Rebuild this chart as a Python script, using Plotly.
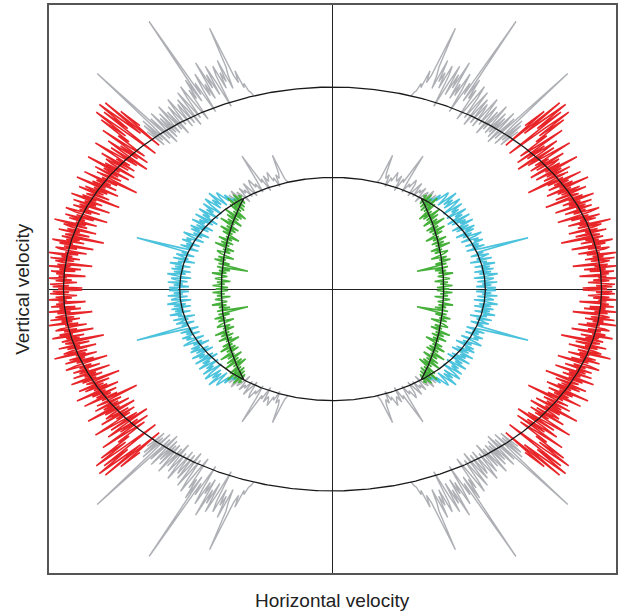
import numpy as np
import plotly.graph_objects as go

# ---- curve parameters (axis units, range -1..1) ----
outer_a, outer_b = 0.949, 0.711      # outer black ellipse
inner_a, inner_b = 0.539, 0.393      # inner black ellipse (cyan branch)
green_a, green_b = 0.392, 0.53       # green branch ellipse

# angular extents (degrees from the horizontal axis) of each coloured branch, one quadrant
red_span = (0.0, 48.5)
gray_out_span = (48.5, 73.0)
cyan_span = (0.0, 52.0)
gray_in_span = (50.0, 73.0)
green_span = (0.0, 37.0)

# ---- relative radial deviations, one quadrant (picture is mirror-symmetric) ----
red_q = [
    0.02, -0.07, 0.04, -0.02, 0.05, 0.01, -0.05, 0.03, -0.03, 0.06, -0.01, 0.02, -0.08, 0.03, 0.00,
    0.05, -0.04, 0.02, -0.06, 0.07, -0.02, 0.03, -0.10, 0.01, 0.04, -0.03, 0.06, -0.05, 0.02, -0.02,
    0.08, -0.04, 0.01, -0.07, 0.03, 0.05, -0.03, 0.02, -0.09, 0.04, -0.01, 0.07, -0.05, 0.02, -0.03,
    0.04, -0.12, 0.03, 0.01, -0.06, 0.06, -0.02, 0.03, -0.08, 0.02, 0.05, -0.04, 0.09, -0.03, 0.01,
    -0.07, 0.04, -0.02, 0.06, -0.05, 0.02, -0.10, 0.03, 0.07, -0.03, 0.02, -0.06, 0.05, -0.01, 0.03,
    -0.09, 0.06, -0.03, 0.02, -0.05, 0.08, -0.02, 0.04, -0.11, 0.03, 0.01, -0.06, 0.07, -0.03, 0.05,
    -0.04, 0.02, -0.08, 0.10, -0.02, 0.04, -0.06, 0.03, -0.03, 0.09, -0.05, 0.02, -0.13, 0.05, 0.01,
    -0.05, 0.07, -0.03, 0.04, -0.07, 0.12, -0.02, 0.05, -0.08, 0.03, 0.06, -0.04, 0.09, -0.06, 0.03,
    -0.03, 0.14, 0.02, -0.05, 0.08, -0.09, 0.04, 0.11, -0.03, 0.06, -0.07, 0.16, 0.03, -0.04, 0.10,
    0.05, 0.20, 0.08, 0.24, 0.12, -0.06, 0.22, 0.10, 0.26, 0.15, 0.05, 0.25, -0.04, 0.18, 0.08,
]
gray_out_q = [
    0.04, -0.05, 0.07, -0.03, 0.09, -0.06, 0.05, 0.38, -0.04, 0.08, -0.07, 0.03, 0.10, -0.05, 0.06, -0.03,
    0.08, -0.04, 0.05, 0.11, -0.03, 0.07, -0.06, 0.04, 0.09, -0.02, 0.06, 0.12, -0.04, 0.05, 0.08, -0.03,
    0.10, 0.04, -0.05, 0.13, 0.06, -0.02, 0.09, 0.15, 0.03, -0.04, 0.12, 0.07, 0.17, 0.05, 0.49, 0.08,
    0.14, -0.02, 0.10, 0.18, 0.06, 0.12, 0.04, 0.23, 0.09, 0.16, 0.05, 0.20, 0.11, -0.02, 0.14, 0.19,
    0.07, 0.15, 0.10, 0.21, 0.06, 0.13, 0.17, 0.37, 0.12, 0.08, 0.14, 0.05, 0.07, 0.03, 0.02, 0.00,
]
cyan_q = [
    0.01, 0.07, -0.06, 0.04, -0.02, 0.08, -0.05, 0.03, 0.06, -0.07, 0.02, 0.09, -0.03, 0.05, -0.06, 0.07,
    -0.01, 0.05, -0.05, 0.09, 0.01, 0.04, -0.07, 0.08, -0.02, 0.03, 0.07, -0.05, 0.04, 0.00, 0.36, 0.05,
    -0.06, 0.07, -0.01, 0.04, -0.05, 0.08, 0.02, 0.06, -0.06, 0.05, 0.10, -0.03, 0.04, -0.07, 0.07, 0.01,
    0.09, -0.04, 0.06, -0.06, 0.11, 0.02, 0.07, -0.03, 0.12, -0.05, 0.08, 0.03, 0.13, -0.02, 0.09, 0.04,
    0.14, -0.01, 0.10, 0.16, 0.03, 0.12, 0.05, 0.18, 0.02, 0.11, 0.15, 0.04, 0.10, 0.02, 0.04, 0.01,
]
gray_in_q = [
    0.05, -0.04, 0.08, -0.02, 0.06, 0.10, -0.03, 0.07, 0.04, -0.05, 0.09, 0.03, 0.06, -0.02, 0.11, 0.05, -0.03, 0.08, 0.12, 0.04,
    0.07, -0.02, 0.10, 0.33, 0.06, 0.09, -0.03, 0.11, 0.05, 0.08, 0.13, 0.04, 0.07, -0.02, 0.09, 0.05, 0.10, 0.26, 0.04, 0.00,
]
green_q = [
    0.05, -0.06, 0.08, -0.03, 0.04, -0.08, 0.06, 0.01, -0.05, 0.09, -0.04, 0.03, -0.07, 0.05, -0.23,
    0.04, -0.06, 0.08, -0.02, 0.05, -0.09, 0.03, 0.07, -0.05, 0.02, -0.08, 0.10, -0.03, 0.05, -0.06,
    0.08, -0.04, 0.02, -0.10, 0.06, -0.03, 0.09, -0.05, 0.04, -0.07, 0.11, -0.02, 0.05, -0.08, 0.07,
    -0.04, 0.10, -0.06, 0.03, -0.09, 0.08, -0.03, 0.12, -0.05, 0.07, -0.04, 0.09, -0.03, 0.05, 0.02,
]

x_label = "Horizontal velocity"
y_label = "Vertical velocity"

QUADS = [(-1, 1), (1, 1), (-1, -1), (1, -1)]


def noisy(a, b, span, dev):
    dev = np.asarray(dev)
    t = np.radians(np.linspace(span[0], span[1], len(dev)))
    xs, ys = [], []
    for sx, sy in QUADS:
        xs += list(sx * a * np.cos(t) * (1 + dev)) + [None]
        ys += list(sy * b * np.sin(t) * (1 + dev)) + [None]
    return xs, ys


def ellipse(a, b, t_deg):
    t = np.radians(t_deg)
    return a * np.cos(t), b * np.sin(t)


fig = go.Figure()

specs = [
    (outer_a, outer_b, gray_out_span, gray_out_q, "#aeb0b5", 1.4),
    (inner_a, inner_b, gray_in_span, gray_in_q, "#aeb0b5", 1.4),
    (outer_a, outer_b, red_span, red_q, "#e8262a", 1.6),
    (inner_a, inner_b, cyan_span, cyan_q, "#4cc3dc", 1.6),
    (green_a, green_b, green_span, green_q, "#45b03a", 1.6),
]
for a, b, span, dev, col, w in specs:
    xs, ys = noisy(a, b, span, dev)
    fig.add_trace(go.Scatter(x=xs, y=ys, mode="lines",
                             line=dict(color=col, width=w), hoverinfo="skip"))

# black theoretical curves
full = np.linspace(0, 360, 721)
for a, b in [(outer_a, outer_b), (inner_a, inner_b)]:
    ex, ey = ellipse(a, b, full)
    fig.add_trace(go.Scatter(x=ex, y=ey, mode="lines",
                             line=dict(color="#1a1a1a", width=1.3), hoverinfo="skip"))
gl = np.linspace(-green_span[1], green_span[1], 120)
gx, gy = ellipse(green_a, green_b, gl)
fig.add_trace(go.Scatter(x=list(gx) + [None] + list(-gx), y=list(gy) + [None] + list(gy),
                         mode="lines", line=dict(color="#1a1a1a", width=1.3), hoverinfo="skip"))

axis_common = dict(range=[-1, 1], showticklabels=False, ticks="", showgrid=False,
                   zeroline=True, zerolinecolor="#222", zerolinewidth=1.3,
                   showline=True, mirror=True, linecolor="#555", linewidth=1.5)
fig.update_layout(
    width=621, height=615,
    margin=dict(l=49, r=3, t=5, b=42),
    paper_bgcolor="white", plot_bgcolor="white",
    showlegend=False,
    xaxis=axis_common,
    yaxis=axis_common,
    font=dict(family="Liberation Sans, Arial, sans-serif", color="#222"),
    annotations=[
        dict(text=x_label, x=0.5, y=-0.048, xref="paper", yref="paper",
             xanchor="center", yanchor="middle", showarrow=False, font=dict(size=19)),
        dict(text=y_label, x=-0.048, y=0.5, xref="paper", yref="paper",
             xanchor="center", yanchor="middle", showarrow=False, textangle=-90,
             font=dict(size=19)),
    ],
)

fig.write_html("out.html", config={"displayModeBar": False},
               post_script="document.body.style.margin='0';document.body.style.overflow='hidden';")
